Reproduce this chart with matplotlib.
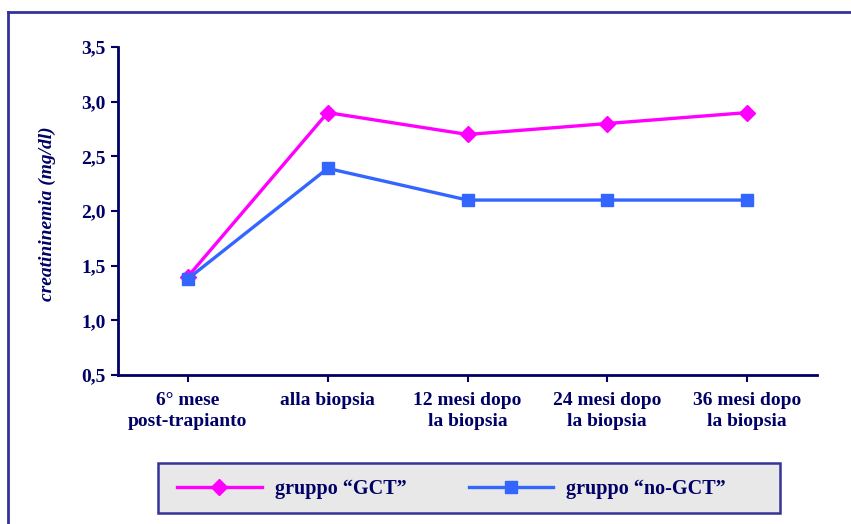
import matplotlib.pyplot as plt
from matplotlib.lines import Line2D
from matplotlib.patches import Rectangle

# data
categories = ["6° mese\npost-trapianto", "alla biopsia", "12 mesi dopo\nla biopsia",
              "24 mesi dopo\nla biopsia", "36 mesi dopo\nla biopsia"]
gct = [1.40, 2.90, 2.70, 2.80, 2.90]
no_gct = [1.38, 2.39, 2.10, 2.10, 2.10]
y_ticks = [0.5, 1.0, 1.5, 2.0, 2.5, 3.0, 3.5]
y_labels = ["0,5", "1,0", "1,5", "2,0", "2,5", "3,0", "3,5"]

navy = "#000066"
frame = "#333399"
W, H = 851, 524

plt.rcParams["font.family"] = "Liberation Serif"

fig = plt.figure(figsize=(W / 100, H / 100), dpi=100)
ax = fig.add_axes([118 / W, 1 - 375 / H, (817 - 118) / W, (375 - 47) / H])

x = list(range(len(categories)))
ax.plot(x, gct, color="#ff00ff", lw=2.4, marker="D", ms=8.5, label="gruppo \u201cGCT\u201d")
ax.plot(x, no_gct, color="#3366ff", lw=2.4, marker="s", ms=9, label="gruppo \u201cno-GCT\u201d")

ax.set_xlim(-0.5, 4.5)
ax.set_ylim(0.5, 3.5)
ax.set_xticks(x)
ax.set_xticklabels(categories, fontsize=14, fontweight="bold", color=navy, linespacing=1.3)
ax.set_yticks(y_ticks)
ax.set_yticklabels(y_labels, fontsize=14, fontweight="bold", color=navy)
ax.tick_params(axis="both", colors=navy, width=1.5, length=5, direction="out")
ax.tick_params(axis="x", pad=7)
ax.tick_params(axis="y", pad=4)
for s in ["top", "right"]:
    ax.spines[s].set_visible(False)
for s in ["left", "bottom"]:
    ax.spines[s].set_color(navy)
    ax.spines[s].set_linewidth(2)

fig.text(47 / W, 1 - 214 / H, "creatininemia (mg/dl)", rotation=90, ha="center", va="center",
         fontsize=14, fontweight="bold", style="italic", color=navy)

# outer frame (top and left edges visible)
fig.add_artist(Line2D([8 / W, 1.0], [1 - 12 / H, 1 - 12 / H], color=frame, lw=2))
fig.add_artist(Line2D([8 / W, 8 / W], [0.0, 1 - 12 / H], color=frame, lw=2))

# legend box
lx0, lx1, ly0, ly1 = 158, 780, 463, 513
fig.add_artist(Rectangle((lx0 / W, 1 - ly1 / H), (lx1 - lx0) / W, (ly1 - ly0) / H,
                         transform=fig.transFigure, facecolor="#e8e8e8", edgecolor=frame, lw=1.8))
handles, labels = ax.get_legend_handles_labels()
leg = fig.legend(handles, labels, loc="center left", ncol=2,
                 bbox_to_anchor=(169 / W, 1 - 489 / H), frameon=False,
                 prop={"family": "Liberation Serif", "weight": "bold", "size": 14.5},
                 handlelength=4.2, handletextpad=0.65, columnspacing=3.1, borderaxespad=0)
for t in leg.get_texts():
    t.set_color(navy)

fig.savefig("out.png", dpi=100)
